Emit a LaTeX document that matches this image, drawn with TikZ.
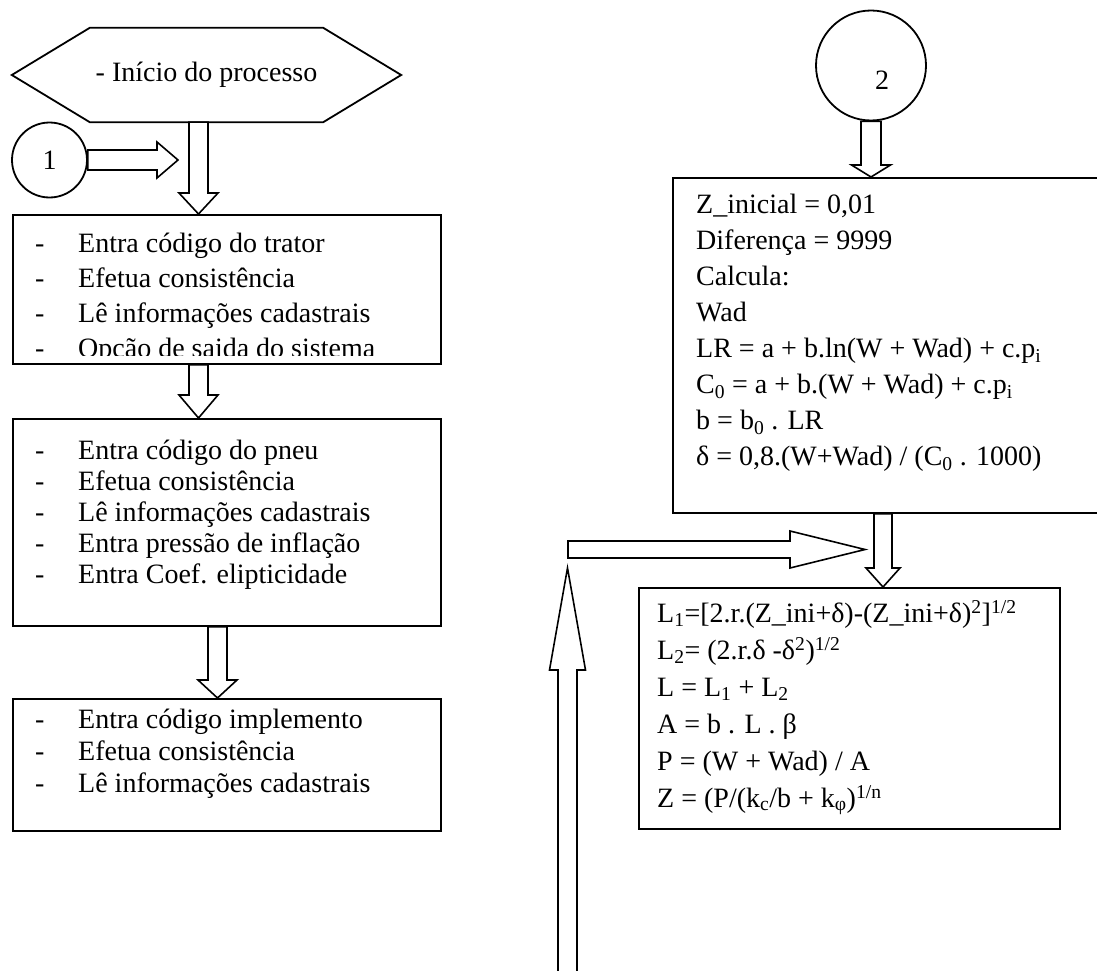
\documentclass[tikz,border=0pt]{standalone}
\usepackage{fontspec}
\setmainfont{Liberation Serif}
\usetikzlibrary{calc, positioning}

\newcommand{\linha}[1]{\makebox[43pt][l]{-}#1}
% seta larga vazada entre dois pontos
\newcommand{\blockarrow}[5]{%
  \coordinate (ba-s) at (#1);
  \coordinate (ba-e) at (#2);
  \coordinate (ba-n) at ($(ba-e)!#5!(ba-s)$);
  \draw[seta] ($(ba-s)!#3!90:(ba-e)$) -- ($(ba-n)!#3!90:(ba-e)$)
    -- ($(ba-n)!#4!90:(ba-e)$) -- (ba-e) -- ($(ba-n)!#4!-90:(ba-e)$)
    -- ($(ba-n)!#3!-90:(ba-e)$) -- ($(ba-s)!#3!-90:(ba-e)$) -- cycle;
}

\begin{document}
\begin{tikzpicture}[x=1pt, y=-1pt,
			every node/.style={font=\fontsize{28}{35}\selectfont},
			caixa/.style={draw, line width=1.8pt, anchor=north west, inner sep=0pt},
			lista/.style={anchor=north west, align=left, inner sep=0pt},
			circ/.style={draw, circle, line width=1.8pt, inner sep=0pt},
			seta/.style={draw, line width=1.6pt, fill=white, line join=miter},
			]
			\fill[white] (0,0) rectangle (1097,971);
			\path[use as bounding box, clip] (0,0) rectangle (1097,971);
			
			% lado esquerdo
			\node[minimum width=233pt, minimum height=94pt, inner sep=0pt] (inicio) at (206.5,75) {- Início do processo};
			\draw[line width=1.8pt] (inicio.north west) -- (inicio.north east) -- ([xshift=78pt]inicio.east)
			  -- (inicio.south east) -- (inicio.south west) -- ([xshift=-78pt]inicio.west) -- cycle;
			
			\node[circ, minimum size=75pt] (c1) at (49.5,160) {1};
			\coordinate (c1fim) at (178,160);
			
			\node[caixa, minimum width=428pt, minimum height=149pt] (trator) at (12,214) {};
			\node[caixa, minimum width=428pt, minimum height=207pt] (pneu) at (12,418) {};
			\node[caixa, minimum width=428pt, minimum height=132pt] (implemento) at (12,698) {};
			
			\begin{scope}
			\clip (trator.north west) rectangle ([yshift=9pt]trator.south east);
			\node[lista, font=\fontsize{28}{35}\selectfont] (tratortxt) at (35,233) {\linha{Entra código do trator}\\
			  \linha{Efetua consistência}\\
			  \linha{Lê informações cadastrais}\\
			  \linha{Opção de saida do sistema}};
			\end{scope}
			
			\node[lista, font=\fontsize{28}{31}\selectfont] (pneutxt) at (35,440) {\linha{Entra código do pneu}\\
			  \linha{Efetua consistência}\\
			  \linha{Lê informações cadastrais}\\
			  \linha{Entra pressão de inflação}\\
			  \linha{Entra Coef. elipticidade}};
			
			\node[lista, font=\fontsize{28}{32}\selectfont] (implementotxt) at (35,709) {\linha{Entra código implemento}\\
			  \linha{Efetua consistência}\\
			  \linha{Lê informações cadastrais}};
			
			\blockarrow{[xshift=-8pt]inicio.south}{ba-s |- trator.north}{9.5pt}{19.5pt}{21pt}
			\blockarrow{c1.east}{c1fim}{10pt}{18pt}{21pt}
			\blockarrow{[xshift=186.5pt]trator.south west}{ba-s |- pneu.north}{9.5pt}{19.5pt}{23pt}
			\blockarrow{[xshift=205.5pt]pneu.south west}{ba-s |- implemento.north}{9.5pt}{19.5pt}{18pt}
			
			% lado direito
			\node[circ, minimum size=110pt, label={[xshift=11pt, yshift=-15pt]center:2}] (c2) at (871,65.5) {};
			
			\node[caixa, minimum width=440pt, minimum height=335pt] (calcula) at (672,177) {};
			\node[lista, font=\fontsize{28}{36}\selectfont] (calculatxt) at (696,194) {Z\_inicial = 0,01\\
			  Diferença = 9999\\
			  Calcula:\\
			  Wad\\
			  LR = a + b.ln(W + Wad) + c.p\textsubscript{i}\\
			  C\textsubscript{0} = a + b.(W + Wad) + c.p\textsubscript{i}\\
			  b = b\textsubscript{0} . LR\\
			  δ = 0,8.(W+Wad) / (C\textsubscript{0} . 1000)};
			
			\node[caixa, minimum width=421pt, minimum height=241pt] (iteracao) at (638,587) {};
			\node[lista, font=\fontsize{28}{37}\selectfont] (iteracaotxt) at (657,600) {L\textsubscript{1}=[2.r.(Z\_ini+δ)-(Z\_ini+δ)\textsuperscript{2}]\textsuperscript{1/2}\\
			  L\textsubscript{2}= (2.r.δ -δ\textsuperscript{2})\textsuperscript{1/2}\\
			  L = L\textsubscript{1} + L\textsubscript{2}\\
			  A = b . L . β\\
			  P = (W + Wad) / A\\
			  Z = (P/(k\textsubscript{c}/b + k\textsubscript{φ})\textsuperscript{1/n}};
			
			\coordinate (volta1) at (567.5,990);
			\coordinate (volta2) at (567.5,568);
			\coordinate (volta3) at (568,549.5);
			\coordinate (volta4) at (865,549.5);
			
			\blockarrow{c2.south}{ba-s |- calcula.north}{10pt}{19.5pt}{12pt}
			\blockarrow{[xshift=211pt]calcula.south west}{ba-s |- iteracao.north}{9pt}{17pt}{19pt}
			\blockarrow{volta1}{volta2}{9.5pt}{18pt}{102pt}
			\blockarrow{volta3}{volta4}{8.5pt}{18.5pt}{75pt}
			
		\end{tikzpicture}
\end{document}
